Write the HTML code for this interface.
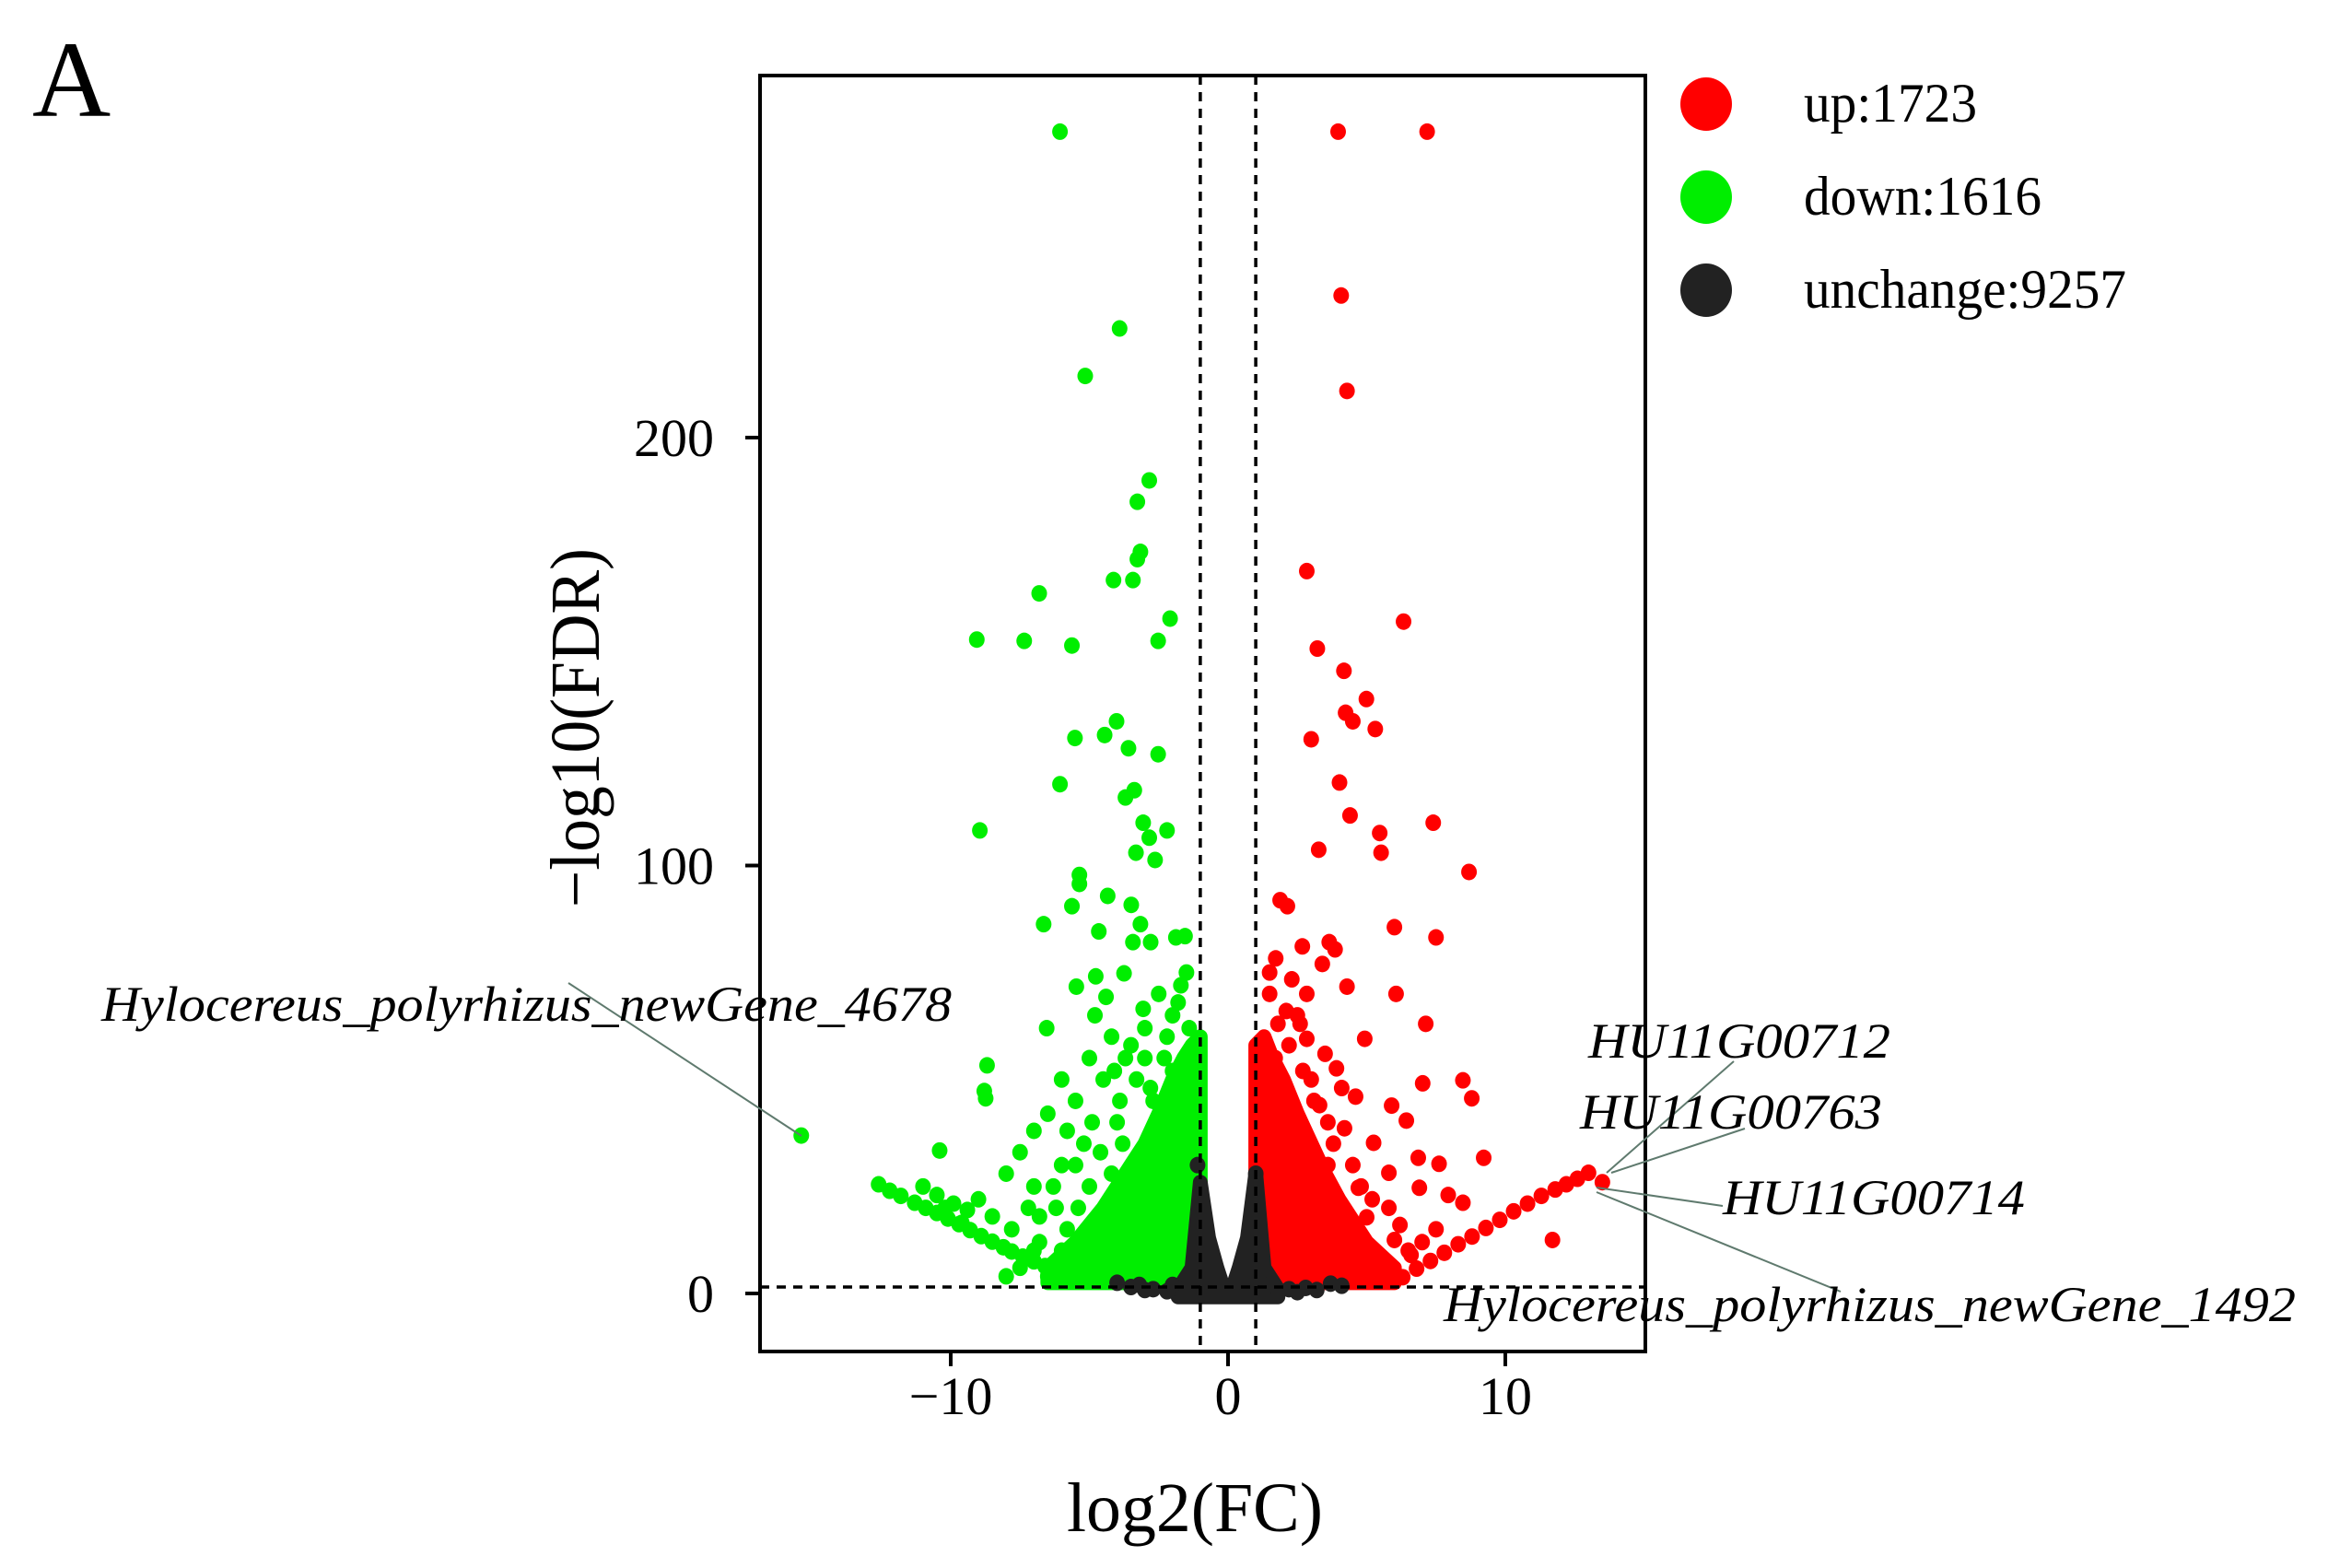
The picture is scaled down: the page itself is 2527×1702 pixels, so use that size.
<!DOCTYPE html>
<html><head><meta charset="utf-8"><style>
html,body{margin:0;padding:0;background:#fff;}
svg{display:block;font-family:"Liberation Serif",serif;}
</style></head><body>
<svg id="chart" width="2527" height="1702" viewBox="0 0 2527 1702" xmlns="http://www.w3.org/2000/svg">
<rect width="2527" height="1702" fill="#fff"/>
<text x="35" y="126" font-size="118">A</text>
<g id="marks"></g>
<g id="axes"></g>
</svg>
<script>
const xTicks=[-10,0,10];
const yTicks=[0,100,200];
const fcCut=[-1,1];
const fdrCut=[1.5];
const greenPts=[[-6.06,271.5],[-3.91,225.5],[-5.15,214.4],[-2.84,190],[-3.27,185],[-3.16,173.3],[-3.27,171.6],[-4.13,166.7],[-3.43,166.7],[-6.81,163.6],[-2.09,157.7],[-9.06,152.8],[-7.35,152.5],[-5.63,151.4],[-2.52,152.5],[-8.95,108.2],[-4.02,133.7],[-4.45,130.5],[-5.52,129.8],[-3.59,127.4],[-2.52,126],[-3.38,117.6],[-3.7,115.9],[-6.06,119],[-3.06,110],[-2.2,108.2],[-2.84,106.5],[-3.32,103],[-2.63,101.3],[-5.36,97.8],[-5.36,95.7],[-4.34,92.9],[-1.88,83.2],[-6.65,86.3],[-3.49,90.8],[-5.63,90.5],[-3.16,86.3],[-2.79,82.1],[-3.43,82.1],[-4.66,84.6],[-1.55,83.5],[-3.75,74.8],[-4.77,74.1],[-4.4,69.3],[-5.47,71.7],[-3.06,66.5],[-6.54,62],[-8.69,53.3],[-8.79,47.3],[-8.74,45.6],[-10.4,33.4],[-15.39,36.9],[-2.5,70],[-1.7,72],[-2,65],[-3,62],[-4.2,60],[-3.7,55],[-5,55],[-4.5,50],[-6,50],[-5.5,45],[-6.5,42],[-7,38],[-7.5,33],[-6,30],[-8,28],[-7,25],[-9,22],[-8.5,18],[-7.8,15],[-6.8,12],[-7.5,6],[-6.5,4],[-9.6,16.5],[-10.2,20],[-4.8,65],[-3.9,45],[-5.2,35],[-6.2,20],[-5.8,15],[-4.9,40],[-2.3,55],[-1.4,62],[-1.8,68],[-2.8,48],
[-1.5,75],[-2.2,60],[-3.3,50],[-4,40],[-5.5,30],[-4.6,33],[-6.3,25],[-7.2,20],[-5,25],[-3.8,35],[-2.7,45],[-6.8,18],[-5.4,20],[-4.2,28],[-3,55],[-2,52],[-6,10],[-7,10],[-4.1,52],[-3.5,58],[-5.8,38],
[-12.6,25.5],[-12.2,24],[-11.8,22.8],[-11.3,21.2],[-10.9,20],[-10.5,18.8],[-10.1,17.5],[-9.7,16.2],[-9.3,14.8],[-8.9,13.4],[-8.5,12.1],[-8.1,10.8],[-7.8,9.8],[-7.4,8.6],[-7.0,7.5],[-6.6,6.4],[-11.0,25],[-10.5,23],[-9.9,21],[-9.4,19.5],[-8.0,4]];
const redPts=[[3.97,271.5],[7.18,271.5],[4.08,233.2],[4.29,210.9],[2.84,168.8],[6.33,157],[3.22,150.7],[4.18,145.5],[4.99,138.9],[4.24,135.7],[4.5,133.7],[5.31,131.9],[3.0,129.5],[4.02,119.4],[7.4,110],[4.4,111.7],[3.27,103.7],[5.47,107.6],[5.52,103],[8.69,98.5],[1.88,91.9],[2.14,90.5],[6.0,85.6],[7.5,83.2],[3.65,82.1],[3.86,80.4],[2.68,81.1],[1.72,78.3],[4.29,71.7],[2.84,70],[6.06,70],[7.13,63],[2.84,59.5],[3.91,52.6],[4.93,59.5],[8.47,49.8],[8.79,45.6],[7.02,49.1],[5.9,43.9],[6.43,40.4],[6.86,31.7],[7.61,30.3],[9.22,31.7],[7.94,23],[11.7,12.5],[8.47,21.2],[5.25,35.2],[5.8,28.2],[6.9,24.7],[4.7,24.7],[3.4,77],[2.3,73.4],[1.8,63],[2.6,63],[3.5,56],[4.2,38.6],[5,17.8],[6,12.5],[5.5,7.3],[6.6,9],[4.5,10.8],[1.5,70],[2.1,66],[3.1,45],[4.6,46],[3.6,40],
[1.5,75],[2.2,58],[3,50],[3.8,35],[4.5,30],[5.2,22],[6.2,16],[7,12],[2.7,52],[3.3,44],[4.8,25],[6.5,10],[2.5,65],[1.7,55],[7.5,15],[5.8,20],[4.1,48],[3.6,30],
[6.3,3.8],[6.8,5.8],[7.3,7.6],[7.8,9.5],[8.3,11.5],[8.8,13.3],[9.3,15.3],[9.8,17.2],[10.3,19.2],[10.8,21],[11.3,22.8],[11.8,24.3],[12.2,25.5],[12.6,26.8],[13.0,28.2],[13.5,26]];
const grayPts=[[-3.5,1.5],[-3,0.8],[-2.7,1],[-2.2,0.5],[-1.8,1.2],[-4,2.5],[-3.2,2],[1.8,0.6],[2.2,1],[2.8,1.3],[3.2,0.8],[4.1,1.8],[3.7,2.3],[-2,2],[1.5,2],[2.5,0.3],[-1.1,30],[1.0,28]];
const greenEnvX=[-1.0,-1.3,-1.6,-2.0,-2.5,-3.0,-3.5,-4.0,-4.5,-5.0,-5.5,-6.0,-6.5];
const greenEnvTop=[60,58,55,50,42,35,30,25,20,16,12,9,6];
const redEnvX=[1.0,1.3,1.6,2.0,2.5,3.0,3.5,4.0,4.5,5.0,5.5,6.0];
const redEnvTop=[58,60,55,50,42,35,28,22,17,12,9,6];
const grayEnvX=[-1.8,-1.3,-1.0,-0.7,-0.4,-0.2,0,0.2,0.4,0.7,1.0,1.3,1.8];
const grayEnvTop=[1,6,26,13,6,2,0.5,2,6,13,28,6,1];
const legendLabels=["up:1723","down:1616","unchange:9257"];
const legendWidths=[188,258,350];
const legendColors=["#ff0000","#00ee00","#222222"];

const L=825,R=1786,T=82,B=1467;
const X=v=>1333+v*30.1;
const Y=v=>1404-v*4.645;
const NS="http://www.w3.org/2000/svg";
const marks=document.getElementById('marks');
const axes=document.getElementById('axes');
function mk(tag,attrs,parent){const e=document.createElementNS(NS,tag);for(const k in attrs)e.setAttribute(k,attrs[k]);parent.appendChild(e);return e;}

function env(xs,tops,base,color,name){
  let pts=xs.map((x,i)=>X(x)+','+Y(tops[i]));
  for(let i=xs.length-1;i>=0;i--)pts.push(X(xs[i])+','+Y(base));
  const p=mk('polygon',{points:pts.join(' '),fill:color,stroke:color,'stroke-width':16,'stroke-linejoin':'round'},marks);
  
  
}
env(greenEnvX,greenEnvTop,2.5,'#00ee00','down-dense-region');
env(redEnvX,redEnvTop,2.5,'#ff0000','up-dense-region');
greenPts.forEach(d=>{const c=mk('ellipse',{cx:X(d[0]),cy:Y(d[1]),rx:8.5,ry:9,fill:'#00ee00'},marks);

});
redPts.forEach(d=>{const c=mk('ellipse',{cx:X(d[0]),cy:Y(d[1]),rx:8.5,ry:9,fill:'#ff0000'},marks);

});
env(grayEnvX,grayEnvTop,-0.8,'#222222','unchange-dense-region');
grayPts.forEach(d=>{const c=mk('ellipse',{cx:X(d[0]),cy:Y(d[1]),rx:8.5,ry:9,fill:'#222222'},marks);

});

fcCut.forEach(v=>{const l=mk('line',{x1:X(v),x2:X(v),y1:T,y2:B,stroke:'#000','stroke-width':3.5,'stroke-dasharray':'10 8'},axes);

});
fdrCut.forEach(v=>{const l=mk('line',{x1:L,x2:R,y1:Y(v),y2:Y(v),stroke:'#000','stroke-width':3.5,'stroke-dasharray':'10 8'},axes);

});

const box=mk('rect',{x:L,y:T,width:R-L,height:B-T,fill:'none',stroke:'#000','stroke-width':4},axes);



xTicks.forEach(v=>{
  const t=mk('line',{x1:X(v),x2:X(v),y1:B,y2:B+16,stroke:'#000','stroke-width':4},axes);
  
  
  const s=mk('text',{x:X(v),y:B+68,'font-size':58,'text-anchor':'middle'},axes);
  s.textContent=(v<0?'\u2212'+Math.abs(v):String(v));
  
  
});
yTicks.forEach(v=>{
  const t=mk('line',{x1:L-16,x2:L,y1:Y(v),y2:Y(v),stroke:'#000','stroke-width':4},axes);
  
  
  const s=mk('text',{x:L-50,y:Y(v)+20,'font-size':58,'text-anchor':'end'},axes);
  s.textContent=String(v);
  
  
});

const xt=mk('text',{x:1297,y:1662,'font-size':76,'text-anchor':'middle',textLength:278,lengthAdjust:'spacingAndGlyphs'},axes);
xt.textContent='log2(FC)';


const yt=mk('text',{x:0,y:0,'font-size':76,'text-anchor':'middle',textLength:390,lengthAdjust:'spacingAndGlyphs',transform:'translate(650,790) rotate(-90)'},axes);
yt.textContent='\u2212log10(FDR)';



legendLabels.forEach((lab,i)=>{
  const cy=113+i*101;
  const c=mk('ellipse',{cx:1852,cy:cy,rx:28,ry:29,fill:legendColors[i]},axes);
  
  
  const s=mk('text',{x:1958,y:cy+19,'font-size':60,textLength:legendWidths[i],lengthAdjust:'spacingAndGlyphs'},axes);
  s.textContent=lab;
  
  
});

const annText=["Hylocereus_polyrhizus_newGene_4678","HU11G00712","HU11G00763","HU11G00714","Hylocereus_polyrhizus_newGene_1492"];
const annPos=[[110,1108,923],[1724,1148,328],[1715,1225,328],[1870,1318,328],[1567,1434,925]];
const annLine=[[617,1067,870,1233],[1882,1152,1744,1273],[1894,1225,1749,1273],[1870,1309,1733,1289],[1998,1402,1733,1294]];
annText.forEach((t,i)=>{
  const l=mk('line',{x1:annLine[i][0],y1:annLine[i][1],x2:annLine[i][2],y2:annLine[i][3],stroke:'#5f7a6e','stroke-width':2},axes);
  
  
  const s=mk('text',{x:annPos[i][0],y:annPos[i][1],'font-size':54,'font-style':'italic',textLength:annPos[i][2],lengthAdjust:'spacingAndGlyphs'},axes);
  s.textContent=t;
  
  
});
</script>
</body></html>
